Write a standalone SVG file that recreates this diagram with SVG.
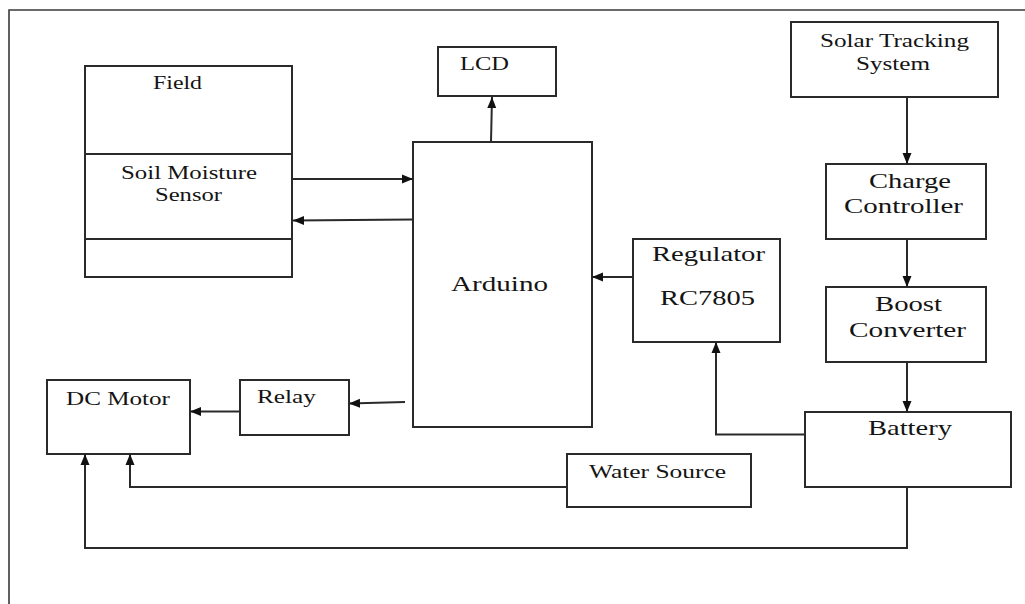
<svg xmlns="http://www.w3.org/2000/svg" width="1025" height="604" viewBox="0 0 1025 604">
<defs>
<style>
.box{fill:#fff;stroke:#2a2a2a;stroke-width:2}
.ln{fill:none;stroke:#2a2a2a;stroke-width:2}
.frame{fill:none;stroke:#3a3a3a;stroke-width:1.6}
.t{font-family:"Liberation Serif","Times New Roman",serif;fill:#141414;font-size:19px}
.L{font-size:22px}
</style>
<marker id="ah" markerUnits="userSpaceOnUse" markerWidth="12" markerHeight="12" viewBox="0 0 12 12" refX="11" refY="6" orient="auto">
<path d="M0,1.5 L11,6 L0,10.5 Z" fill="#111"/>
</marker>
</defs>
<rect width="1025" height="604" fill="#fff"/>
<path class="frame" d="M9,604 L9,10 L1025,10"/>

<g id="field">
<rect class="box" x="85" y="66" width="207" height="211"/>
<line class="ln" x1="85" y1="154" x2="292" y2="154"/>
<line class="ln" x1="85" y1="239" x2="292" y2="239"/>
<text class="t" x="153" y="89" textLength="49" lengthAdjust="spacingAndGlyphs">Field</text>
<text class="t" x="121" y="179" textLength="136" lengthAdjust="spacingAndGlyphs">Soil Moisture</text>
<text class="t" x="155" y="201" textLength="67" lengthAdjust="spacingAndGlyphs">Sensor</text>
</g>
<g id="lcd">
<rect class="box" x="438" y="47" width="118" height="49"/>
<text class="t" x="460" y="70" textLength="49" lengthAdjust="spacingAndGlyphs">LCD</text>
</g>
<g id="arduino">
<rect class="box" x="413" y="142" width="179" height="285"/>
<text class="t L" x="451" y="291" textLength="97" lengthAdjust="spacingAndGlyphs">Arduino</text>
</g>
<g id="solar">
<rect class="box" x="791" y="22" width="207" height="75"/>
<text class="t" x="820" y="47" textLength="149" lengthAdjust="spacingAndGlyphs">Solar Tracking</text>
<text class="t" x="856" y="70" textLength="74" lengthAdjust="spacingAndGlyphs">System</text>
</g>
<g id="charge">
<rect class="box" x="826" y="164" width="160" height="75"/>
<text class="t L" x="869" y="188" textLength="82" lengthAdjust="spacingAndGlyphs">Charge</text>
<text class="t L" x="844" y="213" textLength="119" lengthAdjust="spacingAndGlyphs">Controller</text>
</g>
<g id="boost">
<rect class="box" x="826" y="287" width="160" height="75"/>
<text class="t L" x="875" y="311" textLength="67" lengthAdjust="spacingAndGlyphs">Boost</text>
<text class="t L" x="849" y="337" textLength="117" lengthAdjust="spacingAndGlyphs">Converter</text>
</g>
<g id="battery">
<rect class="box" x="805" y="412" width="206" height="75"/>
<text class="t L" x="868" y="435" textLength="84" lengthAdjust="spacingAndGlyphs">Battery</text>
</g>
<g id="regulator">
<rect class="box" x="633" y="239" width="147" height="103"/>
<text class="t L" x="652" y="261" textLength="113" lengthAdjust="spacingAndGlyphs">Regulator</text>
<text class="t L" x="660" y="305" textLength="95" lengthAdjust="spacingAndGlyphs">RC7805</text>
</g>
<g id="water">
<rect class="box" x="567" y="454" width="184" height="53"/>
<text class="t" x="589" y="478" textLength="137" lengthAdjust="spacingAndGlyphs">Water Source</text>
</g>
<g id="dcmotor">
<rect class="box" x="47" y="380" width="143" height="74"/>
<text class="t" x="66" y="405" textLength="104" lengthAdjust="spacingAndGlyphs">DC Motor</text>
</g>
<g id="relay">
<rect class="box" x="240" y="380" width="109" height="55"/>
<text class="t" x="257" y="403" textLength="59" lengthAdjust="spacingAndGlyphs">Relay</text>
</g>

<g id="connectors">
<path class="ln" marker-end="url(#ah)" d="M491,142 L492,97"/>
<path class="ln" marker-end="url(#ah)" d="M292,179 L413,179"/>
<path class="ln" marker-end="url(#ah)" d="M413,219.5 L293,220.5"/>
<path class="ln" marker-end="url(#ah)" d="M633,277 L592,277"/>
<path class="ln" marker-end="url(#ah)" d="M405,402 L349,403.5"/>
<path class="ln" marker-end="url(#ah)" d="M240,411.5 L190,411.5"/>
<path class="ln" marker-end="url(#ah)" d="M907,97 L907,164"/>
<path class="ln" marker-end="url(#ah)" d="M907,239 L907,287"/>
<path class="ln" marker-end="url(#ah)" d="M907,362 L907,412"/>
<path class="ln" marker-end="url(#ah)" d="M805,434.5 L716,434.5 L716,342"/>
<path class="ln" marker-end="url(#ah)" d="M567,487 L130,487 L130,454"/>
<path class="ln" marker-end="url(#ah)" d="M907,487 L907,548 L85,548 L85,454"/>
</g>
</svg>
